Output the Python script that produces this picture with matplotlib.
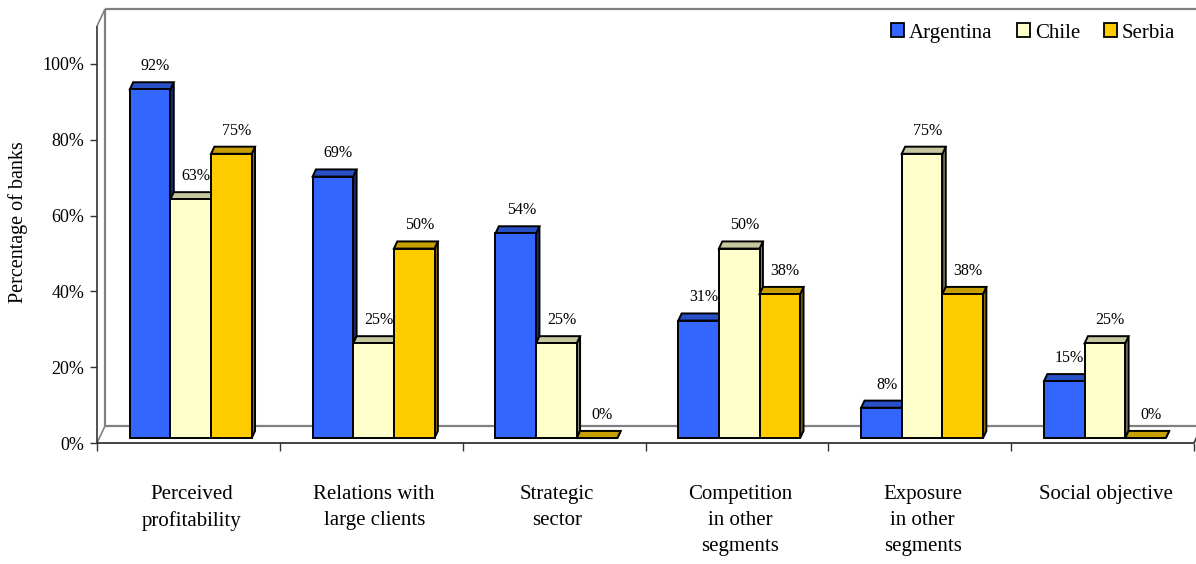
import matplotlib
matplotlib.use("Agg")
import matplotlib.pyplot as plt
from matplotlib.patches import Polygon, Patch
import matplotlib.colors as mcolors
import numpy as np

plt.rcParams["font.family"] = ["Liberation Serif", "DejaVu Serif"]

categories = ["Perceived\nprofitability", "Relations with\nlarge clients", "Strategic\nsector",
              "Competition\nin other\nsegments", "Exposure\nin other\nsegments", "Social objective"]
series_names = ["Argentina", "Chile", "Serbia"]
argentina = [92, 69, 54, 31, 8, 15]
chile = [63, 25, 25, 50, 75, 25]
serbia = [75, 50, 0, 38, 38, 0]
y_ticks = [0, 20, 40, 60, 80, 100]
colors = ["#3366FF", "#FFFFCC", "#FFCC00"]

W, H = 1196, 564
fig = plt.figure(figsize=(W / 100, H / 100), dpi=100)
# front plane of the 3D box: x 97..1194 px, 0%..100% = 443..64 px
ax = fig.add_axes([97 / W, (H - 443) / H, (1194 - 97) / W, (443 - 64) / H])
n = len(categories)
ax.set_xlim(0, n)
ax.set_ylim(0, 100)
for s in ax.spines.values():
    s.set_visible(False)

# pixel -> data helpers
px = n / (1194 - 97)
py = 100 / (443 - 64)
ddx, ddy = 8 * px, 17 * py          # full floor depth
y_top = 110                        # top of walls (front plane)

grey = "#808080"
line = dict(clip_on=False, solid_capstyle="butt")
# back wall and floor
ax.plot([ddx, ddx], [ddy, y_top + ddy], color=grey, lw=1.6, **line)
ax.plot([ddx, n + ddx], [y_top + ddy, y_top + ddy], color=grey, lw=1.6, **line)
ax.plot([ddx, n + ddx], [ddy, ddy], color=grey, lw=1.6, **line)
ax.plot([0, ddx], [y_top, y_top + ddy], color=grey, lw=1.2, **line)
ax.plot([0, ddx], [0, ddy], color=grey, lw=1.2, **line)
ax.plot([n, n + ddx], [0, ddy], color="#333333", lw=1.2, **line)
# front axes
ax.plot([0, 0], [0, y_top], color="#333333", lw=1.2, **line)
ax.plot([0, n], [0, 0], color="#222222", lw=1.2, **line)

ax.set_yticks(y_ticks)
ax.set_yticklabels([f"{t}%" for t in y_ticks], fontsize=13)
ax.set_xticks(np.arange(n + 1))
ax.set_xticklabels([])
ax.tick_params(axis="y", direction="out", length=5, width=1, color="#333333", pad=4)
ax.tick_params(axis="x", direction="out", length=6, width=1, color="#333333")

# bars
bw = (2 / 3) / 3
fx, fy = 0.29 * ddx, 0.29 * ddy     # bar front offset into depth
bdx, bdy = 0.42 * ddx, 0.42 * ddy   # bar depth


def shade(c, f):
    r, g, b = mcolors.to_rgb(c)
    return (r * f, g * f, b * f)


values = [argentina, chile, serbia]
z = 3
for i in range(n):
    for j, vals in enumerate(values):
        v = vals[i]
        xl = i + 1 / 6 + j * bw + fx
        yb = fy
        yt = yb + v
        ec = "black"
        front = Polygon([(xl, yb), (xl + bw, yb), (xl + bw, yt), (xl, yt)],
                        facecolor=colors[j], edgecolor=ec, lw=1.4, zorder=z)
        top = Polygon([(xl, yt), (xl + bw, yt), (xl + bw + bdx, yt + bdy), (xl + bdx, yt + bdy)],
                      facecolor=shade(colors[j], 0.78), edgecolor=ec, lw=1.4, zorder=z)
        side = Polygon([(xl + bw, yb), (xl + bw + bdx, yb + bdy), (xl + bw + bdx, yt + bdy), (xl + bw, yt)],
                       facecolor=shade(colors[j], 0.55), edgecolor=ec, lw=1.4, zorder=z)
        for p in (side, top, front):
            p.set_clip_on(False)
            ax.add_patch(p)
        z += 1
        ax.annotate(f"{v}%", xy=(xl + bw / 2 + bdx, yt + bdy), xytext=(1.5, 11.5),
                    textcoords="offset points", ha="center", va="center",
                    fontsize=11.5, zorder=50)

# category labels
for i, lab in enumerate(categories):
    ax.text(i + 0.5 + 3 * px, -(485 - 443) * py, lab, ha="center", va="top",
            fontsize=15, linespacing=1.5)

fig.text(18 / W, 1 - 222 / H, "Percentage of banks", rotation=90,
         ha="center", va="center", fontsize=14.5)

handles = [Patch(facecolor=c, edgecolor="black", lw=1.3, label=s) for c, s in zip(colors, series_names)]
fig.legend(handles=handles, loc="center left", bbox_to_anchor=(891 / W, 1 - 33 / H),
           ncol=3, frameon=False, fontsize=15, handlelength=0.62, handleheight=0.62,
           handletextpad=0.25, columnspacing=1.15, borderaxespad=0, borderpad=0)

fig.savefig("out.png", dpi=100)
